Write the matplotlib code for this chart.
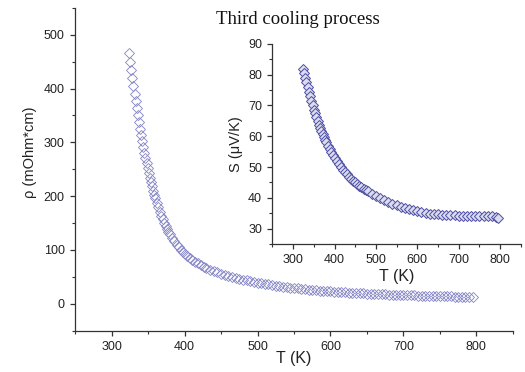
import matplotlib
matplotlib.use('Agg')
import matplotlib.pyplot as plt
from matplotlib.ticker import MultipleLocator


# resistivity vs temperature (main panel)
T_rho = [324, 325.5, 327, 328.5, 330, 331.5, 333, 334.5, 336, 337.5, 339, 340.5,
         342, 343.5, 345, 346.5, 348, 349.5, 351, 352.5, 354, 355.5, 357, 358.5,
         360, 362, 364, 366, 368, 370, 372, 374, 376, 378, 380, 383, 386, 389,
         392, 395, 398, 401, 404, 407, 410, 414, 418, 422, 426, 430, 435, 440,
         445, 450, 455, 460, 465, 470, 475, 480, 485, 490, 495, 500, 505, 510,
         515, 520, 525, 530, 535, 540, 545, 550, 555, 560, 565, 570, 575, 580,
         585, 590, 595, 600, 605, 610, 615, 620, 625, 630, 635, 640, 645, 650,
         655, 660, 665, 670, 675, 680, 685, 690, 695, 700, 705, 710, 715, 720,
         725, 730, 735, 740, 745, 750, 755, 760, 765, 770, 775, 780, 785, 790, 795]
rho = [466, 450, 434, 419, 404, 390, 376, 363, 350, 337, 325, 313,
       302, 291, 281, 271, 261, 252, 243, 234, 226, 218, 210, 203,
       196, 187, 179, 171, 164, 157, 151, 145, 139, 134, 129, 122, 116, 110,
       105, 100, 96, 92, 88, 85, 82, 78, 75, 72, 69, 66.5, 63.5, 61,
       58.5, 56, 54, 52, 50, 48, 46.5, 45, 43.5, 42, 40.5, 39.5, 38, 37,
       36, 35, 34, 33, 32, 31, 30, 29.3, 28.5, 27.8, 27, 26.4, 25.8, 25.2,
       24.6, 24, 23.5, 23, 22.5, 22, 21.6, 21.2, 20.8, 20.4, 20, 19.6, 19.3, 19,
       18.6, 18.3, 18, 17.7, 17.4, 17.1, 16.8, 16.6, 16.3, 16.1, 15.9, 15.7, 15.5, 15.3,
       15.1, 14.9, 14.7, 14.5, 14.3, 14.1, 14, 13.8, 13.6, 13.5, 13.3, 13.1, 13, 12.8, 12.6]

# Seebeck coefficient vs temperature (inset)
T_S = [323, 326, 329, 332, 335, 338, 341, 344, 347, 350, 353, 356, 359, 362,
       365, 368, 371, 374, 377, 380, 384, 388, 392, 396, 400, 405, 410, 415,
       420, 425, 430, 435, 440, 445, 450, 455, 460, 465, 470, 475, 480, 490,
       500, 510, 520, 530, 540, 550, 560, 570, 580, 590, 600, 610, 620, 630,
       640, 650, 660, 670, 680, 690, 700, 710, 720, 730, 740, 750, 760, 770,
       780, 790, 795]
S = [82.0, 80.5, 79.0, 77.5, 76.0, 74.5, 73.0, 71.5, 70.0, 68.6, 67.4, 66.2, 65.0, 63.8,
     62.7, 61.6, 60.6, 59.7, 58.8, 58.0, 56.9, 55.9, 54.9, 54.0, 53.1, 52.0, 51.0, 50.1,
     49.2, 48.4, 47.6, 46.9, 46.2, 45.6, 45.0, 44.5, 44.0, 43.5, 43.0, 42.5, 42.1, 41.3,
     40.5, 39.8, 39.2, 38.6, 38.1, 37.6, 37.1, 36.7, 36.3, 36.0, 35.7, 35.4, 35.1, 34.9,
     34.7, 34.6, 34.5, 34.4, 34.3, 34.3, 34.2, 34.2, 34.2, 34.2, 34.2, 34.1, 34.1, 34.1,
     34.0, 33.9, 33.3]

TITLE = 'Third cooling process'

plt.rcParams['font.family'] = ['Liberation Sans', 'DejaVu Sans']
AX_COLOR = '#333333'


def style_axes(ax, xminor, yminor):
    for side in ('top', 'right'):
        ax.spines[side].set_visible(False)
    for side in ('left', 'bottom'):
        ax.spines[side].set_color(AX_COLOR)
        ax.spines[side].set_linewidth(0.9)
    ax.xaxis.set_minor_locator(MultipleLocator(xminor))
    ax.yaxis.set_minor_locator(MultipleLocator(yminor))
    ax.tick_params(which='major', direction='out', length=3.5, width=0.9,
                   color=AX_COLOR, labelsize=9, labelcolor='#222222', pad=4)
    ax.tick_params(which='minor', direction='out', length=2, width=0.8, color=AX_COLOR)


fig = plt.figure(figsize=(5.25, 3.72), dpi=100)

# main panel
ax = fig.add_axes([0.143, 0.111, 0.834, 0.868])
ax.plot(T_rho, rho, linestyle='none', marker='D', markersize=5.4,
        mfc='none', mec='#8484c6', mew=0.6)
ax.set_xlim(250, 850)
ax.set_ylim(-50, 550)
ax.xaxis.set_ticks([300, 400, 500, 600, 700, 800])
ax.yaxis.set_ticks([0, 100, 200, 300, 400, 500])
style_axes(ax, 50, 50)
ax.set_xlabel('T (K)', fontsize=11.5, color='#222222')
ax.set_ylabel('ρ (mOhm*cm)', fontsize=10.5, color='#222222')
ax.xaxis.set_label_coords(0.5, -0.062)
ax.yaxis.set_label_coords(-0.088, 0.554)

# inset
axi = fig.add_axes([0.519, 0.344, 0.473, 0.538])
axi.plot(T_S, S, linestyle='none', marker='D', markersize=5.0,
         mfc='#dcdcf0', mec='#4e4ea4', mew=0.7)
axi.set_xlim(250, 850)
axi.set_ylim(25, 90)
axi.xaxis.set_ticks([300, 400, 500, 600, 700, 800])
axi.yaxis.set_ticks([30, 40, 50, 60, 70, 80, 90])
style_axes(axi, 50, 5)
axi.set_xlabel('T (K)', fontsize=11.5, color='#222222')
axi.set_ylabel('S (μV/K)', fontsize=10.5, color='#222222')
axi.xaxis.set_label_coords(0.5, -0.125)

fig.text(298 / 525, 1 - 20 / 372, TITLE, ha='center', va='center',
         fontsize=13.5, family='Liberation Serif', color='#111111')

fig.savefig('out.png', dpi=100)
